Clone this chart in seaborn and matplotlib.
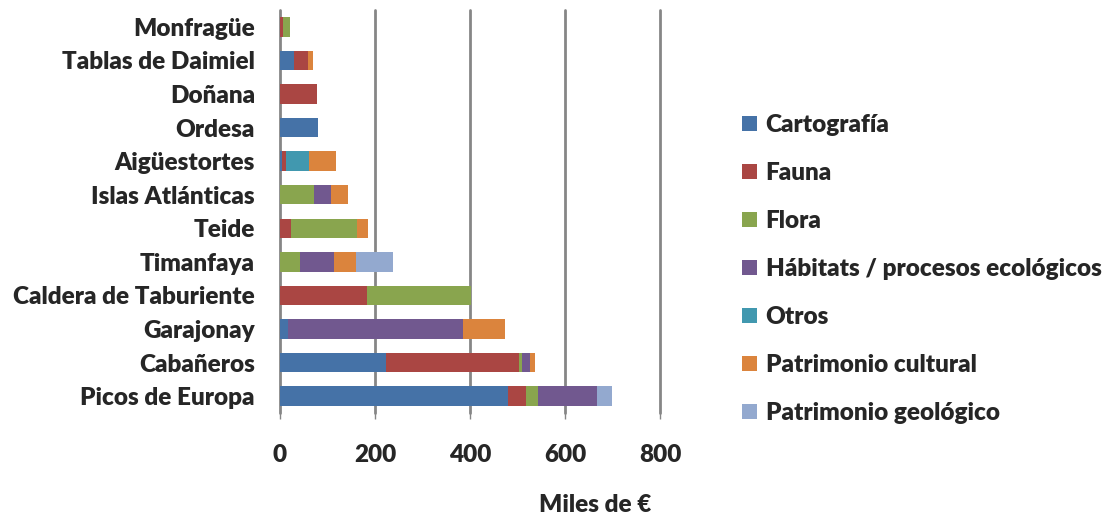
import numpy as np
import pandas as pd
import matplotlib
matplotlib.use("Agg")
import matplotlib.pyplot as plt
from matplotlib.patches import Patch
import seaborn as sns

# National parks (top to bottom) and funding per research area, in thousands of euros
parks = ["Monfragüe", "Tablas de Daimiel", "Doñana", "Ordesa", "Aigüestortes",
         "Islas Atlánticas", "Teide", "Timanfaya", "Caldera de Taburiente",
         "Garajonay", "Cabañeros", "Picos de Europa"]
areas = ["Cartografía", "Fauna", "Flora", "Hábitats / procesos ecológicos",
         "Otros", "Patrimonio cultural", "Patrimonio geológico"]

cartografia = [0, 29, 0, 81, 4, 0, 0, 0, 0, 17, 224, 479]
fauna = [7, 30, 78, 0, 8, 0, 23, 0, 183, 0, 280, 39]
flora = [13, 0, 0, 0, 0, 72, 140, 42, 220, 0, 5, 25]
habitats = [0, 0, 0, 0, 0, 36, 0, 72, 0, 369, 17, 124]
otros = [0, 0, 0, 0, 48, 0, 0, 0, 0, 0, 0, 0]
patrimonio_cultural = [0, 11, 0, 0, 57, 36, 22, 47, 0, 88, 11, 0]
patrimonio_geologico = [0, 0, 0, 0, 0, 0, 0, 76, 0, 0, 0, 32]

x_ticks = [0, 200, 400, 600, 800]

colors = ["#4572A7", "#AA4643", "#89A54E", "#71588F", "#4198AF", "#DB843D", "#93A9CF"]

series = [cartografia, fauna, flora, habitats, otros,
          patrimonio_cultural, patrimonio_geologico]
df = pd.DataFrame(dict(zip(areas, series)), index=parks)
cum = df.cumsum(axis=1)

sns.set_theme(style="white")
plt.rcParams["font.family"] = ["Lato", "DejaVu Sans"]
plt.rcParams["font.weight"] = "heavy"

FS = 17.5
W = "heavy"

fig = plt.figure(figsize=(11.07, 5.2), dpi=100)
ax = fig.add_axes([280 / 1107, 1 - 413 / 520, 380 / 1107, 403 / 520])

# Stacked bars: draw cumulative totals from the outermost segment inwards
for i in range(len(areas) - 1, -1, -1):
    data = pd.DataFrame({"park": parks, "value": cum[areas[i]].values})
    sns.barplot(data=data, x="value", y="park", order=parks, color=colors[i],
                width=0.58, saturation=1, linewidth=0, ax=ax, zorder=3)

ax.set_xlim(0, 800)
ax.set_ylim(11.5, -0.5)
ax.set_xticks(x_ticks)
ax.set_xticklabels([str(t) for t in x_ticks])
ax.xaxis.grid(True, color="#868686", linewidth=2)
for gl in ax.get_xgridlines():
    gl.set_clip_on(False)
ax.yaxis.grid(False)
ax.set_axisbelow(True)
for s in ax.spines.values():
    s.set_visible(False)

ax.tick_params(axis="x", length=4, width=1, color="#868686", pad=18,
               labelsize=FS, bottom=True)
ax.tick_params(axis="y", length=0, pad=18, labelsize=FS)
for lab in ax.get_xticklabels() + ax.get_yticklabels():
    lab.set_fontweight(W)

ax.set_ylabel("")
ax.set_xlabel("Miles de €", fontsize=FS, fontweight=W)
ax.xaxis.set_label_coords((595 - 280) / 380, -0.2)

handles = [Patch(facecolor=c, edgecolor="none") for c in colors]
fig.legend(handles, areas, loc="center left",
           bbox_to_anchor=(742 / 1107, 1 - 269 / 520), frameon=False,
           prop={"size": FS, "weight": W}, handlelength=0.62,
           handleheight=0.62, handletextpad=0.35, labelspacing=1.07,
           borderpad=0, borderaxespad=0)

fig.savefig("out.png", dpi=100)
